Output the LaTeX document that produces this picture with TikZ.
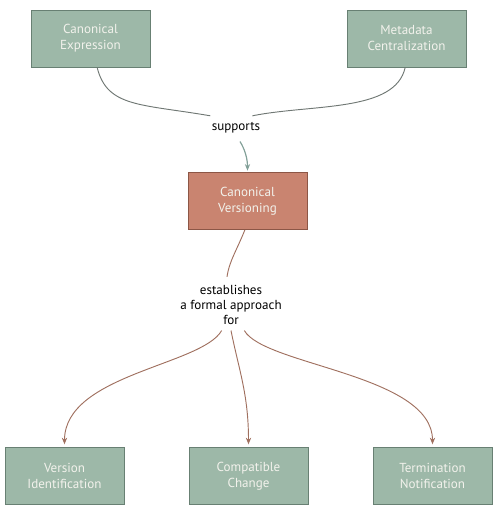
\documentclass[tikz,border=0pt]{standalone}
\usepackage{fontspec}
\setmainfont{PT Sans}
\usetikzlibrary{arrows.meta}

\definecolor{boxgreen}{RGB}{157,184,168}
\definecolor{boxgreenline}{RGB}{104,128,115}
\definecolor{boxred}{RGB}{201,132,112}
\definecolor{boxredline}{RGB}{140,86,70}
\definecolor{linegray}{RGB}{112,120,116}
\definecolor{linesup}{RGB}{130,160,152}
\definecolor{linebrown}{RGB}{160,112,95}
\definecolor{boxtext}{RGB}{242,242,236}

\tikzset{every picture/.style={line width=0.75pt}}
\tikzset{
  greenbox/.style={draw=boxgreenline, fill=boxgreen, text=boxtext, minimum width=89.25pt, minimum height=42.75pt, align=center, inner sep=0.75pt, font=\fontsize{9.8}{12}\selectfont},
  redbox/.style={greenbox, draw=boxredline, fill=boxred},
  linklabel/.style={align=center, inner sep=0.75pt, text=black, font=\fontsize{9.8}{11.5}\selectfont},
  topline/.style={draw=linegray, line width=0.7pt},
  suparrow/.style={draw=linesup, line width=0.9pt, -{Stealth[length=5pt,width=4pt]}},
  estline/.style={draw=linebrown, line width=0.7pt},
  estarrow/.style={estline, -{Stealth[length=5pt,width=4pt]}}
}

\begin{document}
\begin{tikzpicture}[x=0.75pt,y=0.75pt,yscale=-1,xscale=1]
\useasboundingbox (0,0) rectangle (498,515);

%Shape: Rectangle [id:canexpr]
\node [greenbox] (canexpr) at (90.5,38.5) {Canonical\\Expression};
%Shape: Rectangle [id:metacent]
\node [greenbox] (metacent) at (406.5,38.5) {Metadata\\Centralization};
%Shape: Rectangle [id:canvers]
\node [redbox] (canvers) at (247.5,201) {Canonical\\Versioning};
%Shape: Rectangle [id:versid]
\node [greenbox] (versid) at (64.5,476) {Version\\Identification};
%Shape: Rectangle [id:compchg]
\node [greenbox] (compchg) at (248.5,476) {Compatible\\Change};
%Shape: Rectangle [id:termnot]
\node [greenbox] (termnot) at (432.5,476) {Termination\\Notification};

% Text Node
\node [linklabel] (supports) at (236,128) {supports};
% Text Node
\node [linklabel] (establishes) at (231,305) {establishes\\a formal approach\\for};

%Curve Lines [id:canexpr-supports]
\draw [topline] ([xshift=5]canexpr.south) .. controls +(10,40) and +(-70,-12) .. ([yshift=-4]supports.north west);
%Curve Lines [id:metacent-supports]
\draw [topline] ([xshift=-1]metacent.south) .. controls +(-10,45) and +(60,-12) .. ([xshift=-7,yshift=-4]supports.north east);
%Curve Lines [id:supports-canvers]
\draw [suparrow] ([xshift=3,yshift=5]supports.south) .. controls +(5,8) and +(0,-12) .. ([yshift=-1]canvers.north);
%Curve Lines [id:canvers-establishes]
\draw [estline] ([xshift=-2]canvers.south) .. controls +(-8,20) and +(2,-15) .. ([xshift=-3,yshift=-5]establishes.north);
%Curve Lines [id:establishes-versid]
\draw [estarrow] ([xshift=-7,yshift=3]establishes.south) .. controls +(-20,35) and +(0,-70) .. ([yshift=-2]versid.north);
%Curve Lines [id:establishes-compchg]
\draw [estarrow] ([xshift=0,yshift=3]establishes.south) .. controls +(8,40) and +(0,-50) .. ([yshift=-2]compchg.north);
%Curve Lines [id:establishes-termnot]
\draw [estarrow] ([xshift=10,yshift=3]establishes.south) .. controls +(20,35) and +(0,-70) .. ([yshift=-2]termnot.north);

\end{tikzpicture}
\end{document}
